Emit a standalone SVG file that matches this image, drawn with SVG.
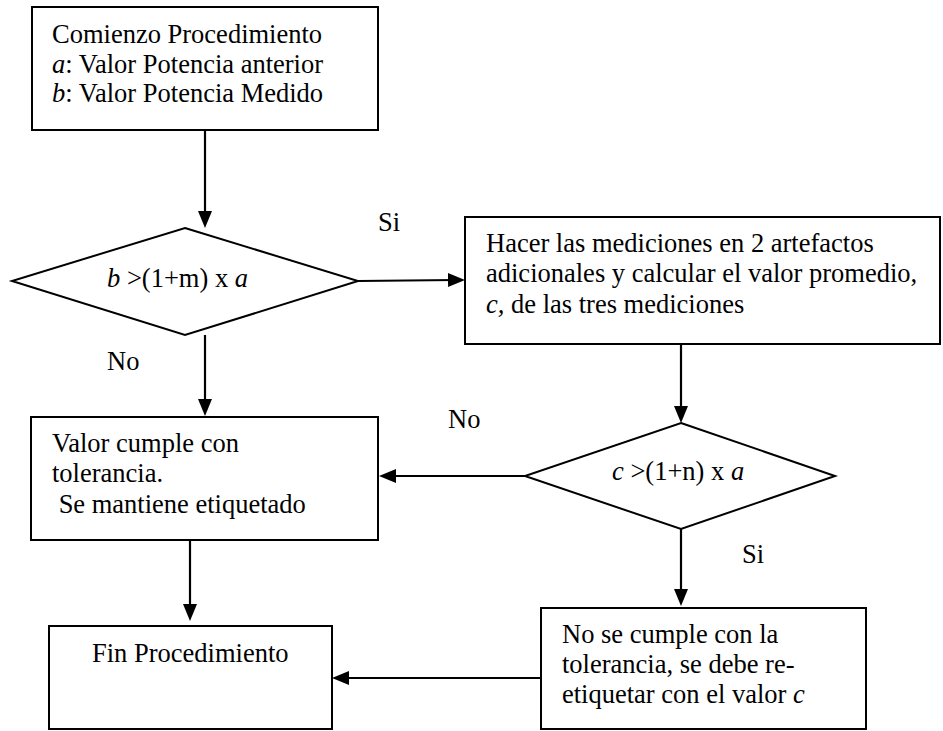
<svg xmlns="http://www.w3.org/2000/svg" width="943" height="731" viewBox="0 0 943 731">
<style>
.box{fill:#fff;stroke:#000;stroke-width:2}
.t{font-family:"Liberation Serif","Times New Roman",serif;font-size:26.5px;fill:#000}
.i{font-style:italic}
.c{fill:none;stroke:#000;stroke-width:2.2}
</style>
<defs>
<marker id="ah" markerUnits="userSpaceOnUse" markerWidth="18" markerHeight="16" refX="8" refY="7" orient="auto">
<path d="M0,0 L17,7 L0,14 z" fill="#000"/>
</marker>
</defs>
<rect width="943" height="731" fill="#fff"/>
<g id="connectors">
<line class="c" x1="205" y1="130" x2="205" y2="219" marker-end="url(#ah)"/>
<line class="c" x1="358" y1="281" x2="456" y2="280" marker-end="url(#ah)"/>
<line class="c" x1="205" y1="335" x2="205" y2="407" marker-end="url(#ah)"/>
<line class="c" x1="681" y1="344" x2="681" y2="414" marker-end="url(#ah)"/>
<line class="c" x1="525" y1="476" x2="388" y2="476" marker-end="url(#ah)"/>
<line class="c" x1="190" y1="540" x2="190" y2="612" marker-end="url(#ah)"/>
<line class="c" x1="681" y1="529" x2="681" y2="597" marker-end="url(#ah)"/>
<line class="c" x1="541" y1="678" x2="341" y2="678" marker-end="url(#ah)"/>
<text class="t" x="378" y="231">Si</text>
<text class="t" x="107" y="370">No</text>
<text class="t" x="448" y="428">No</text>
<text class="t" x="742" y="563">Si</text>
</g>
<g id="start">
<rect class="box" x="32" y="7" width="346" height="123"/>
<text class="t" x="52" y="43">Comienzo Procedimiento</text>
<text class="t" x="52" y="73"><tspan class="i">a</tspan>: Valor Potencia anterior</text>
<text class="t" x="52" y="102"><tspan class="i">b</tspan>: Valor Potencia Medido</text>
</g>
<g id="decision1">
<polygon class="box" points="185,228 358,281 185,335 12,281"/>
<text class="t" x="107" y="287"><tspan class="i">b</tspan> &gt;(1+m) x <tspan class="i">a</tspan></text>
</g>
<g id="measure">
<rect class="box" x="465" y="217" width="475" height="127"/>
<text class="t" x="486" y="252">Hacer las mediciones en 2 artefactos</text>
<text class="t" x="486" y="282">adicionales y calcular el valor promedio,</text>
<text class="t" x="486" y="313"><tspan class="i">c,</tspan> de las tres mediciones</text>
</g>
<g id="ok">
<rect class="box" x="31" y="417" width="347" height="123"/>
<text class="t" x="52" y="452">Valor cumple con</text>
<text class="t" x="52" y="482">tolerancia.</text>
<text class="t" x="52" y="513" xml:space="preserve"> Se mantiene etiquetado</text>
</g>
<g id="decision2">
<polygon class="box" points="681,423 835,476 681,529 525,476"/>
<text class="t" x="612" y="480"><tspan class="i">c</tspan> &gt;(1+n) x <tspan class="i">a</tspan></text>
</g>
<g id="end">
<rect class="box" x="49" y="626" width="283" height="103"/>
<text class="t" x="92" y="662">Fin Procedimiento</text>
</g>
<g id="relabel">
<rect class="box" x="541" y="608" width="325" height="121"/>
<text class="t" x="562" y="643">No se cumple con la</text>
<text class="t" x="562" y="673">tolerancia, se debe re-</text>
<text class="t" x="562" y="703">etiquetar con el valor <tspan class="i">c</tspan></text>
</g>
</svg>
